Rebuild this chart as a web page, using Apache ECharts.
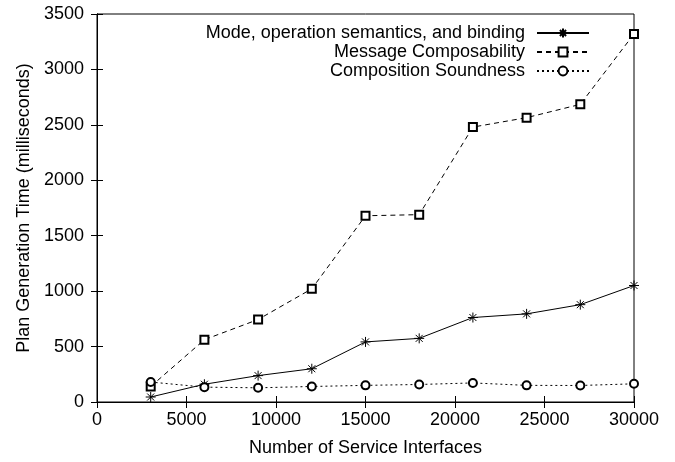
<!DOCTYPE html>
<html>
<head>
<meta charset="utf-8">
<script src="https://cdn.jsdelivr.net/npm/echarts@6/dist/echarts.min.js"></script>
<style>
html,body{margin:0;padding:0;background:#fff;}
#chart{width:675px;height:462px;}
</style>
</head>
<body>
<div id="chart"></div>
<script>
const interfaces = [3000, 6000, 9000, 12000, 15000, 18000, 21000, 24000, 27000, 30000];
const modeBinding = [45, 160, 238, 300, 542, 574, 762, 795, 878, 1051];
const messageComposability = [140, 562, 744, 1021, 1680, 1690, 2480, 2565, 2685, 3320];
const compositionSoundness = [180, 134, 128, 140, 150, 158, 172, 150, 149, 164];
const seriesNames = ['Mode, operation semantics, and binding', 'Message Composability', 'Composition Soundness'];

const FONT = 'Liberation Sans';
const FS = 18;
const starPath = 'path://M0 5 L10 5 M5 0 L5 10 M1.5 1.5 L8.5 8.5 M8.5 1.5 L1.5 8.5';

function pairs(ys){ return interfaces.map((x,i)=>[x, ys[i]]); }
const plain = v => String(v);

const chart = echarts.init(document.getElementById('chart'), null, {renderer:'canvas'});
const tickStyle = {show:true, inside:true, length:6, lineStyle:{color:'#000', width:1}};
chart.setOption({
  animation:false,
  backgroundColor:'#fff',
  textStyle:{fontFamily:FONT, color:'#000'},
  grid:{left:97, right:41, top:14, bottom:58, show:true, borderColor:'#000', borderWidth:1, containLabel:false},
  legend:{
    orient:'vertical', right:80, top:19, align:'right',
    itemWidth:52, itemHeight:11, itemGap:1,
    textStyle:{fontFamily:FONT, fontSize:FS, color:'#000', padding:[0,7,0,0]},
    data:seriesNames,
    selectedMode:false
  },
  xAxis:[{
    type:'value', min:0, max:30000, interval:5000,
    name:'Number of Service Interfaces', nameLocation:'middle', nameGap:37,
    nameTextStyle:{fontFamily:FONT, fontSize:FS, color:'#000'},
    axisLine:{show:true, lineStyle:{color:'#000'}},
    axisTick:tickStyle,
    axisLabel:{fontFamily:FONT, fontSize:FS, color:'#000', margin:9, formatter:plain},
    splitLine:{show:false}
  },{
    type:'value', position:'top', min:0, max:30000, interval:5000,
    axisLine:{show:true, lineStyle:{color:'#000'}},
    axisTick:tickStyle, axisLabel:{show:false}, splitLine:{show:false}
  }],
  yAxis:[{
    type:'value', min:0, max:3500, interval:500,
    name:'Plan Generation Time (milliseconds)', nameLocation:'middle', nameGap:64,
    nameTextStyle:{fontFamily:FONT, fontSize:FS, color:'#000'},
    axisLine:{show:true, lineStyle:{color:'#000'}},
    axisTick:tickStyle,
    axisLabel:{fontFamily:FONT, fontSize:FS, color:'#000', margin:13, formatter:plain},
    splitLine:{show:false}
  },{
    type:'value', position:'right', min:0, max:3500, interval:500,
    axisLine:{show:true, lineStyle:{color:'#000'}},
    axisTick:tickStyle, axisLabel:{show:false}, splitLine:{show:false}
  }],
  series:[
    {
      name:seriesNames[0], type:'line', data:pairs(modeBinding),
      symbol:starPath, symbolSize:10,
      lineStyle:{color:'#000', width:1, type:'solid'},
      itemStyle:{color:'#000', borderColor:'#000', borderWidth:1}
    },
    {
      name:seriesNames[1], type:'line', data:pairs(messageComposability),
      symbol:'emptyRect', symbolSize:8,
      lineStyle:{color:'#000', width:1, type:[5,4]},
      itemStyle:{color:'#000', borderColor:'#000', borderWidth:1}
    },
    {
      name:seriesNames[2], type:'line', data:pairs(compositionSoundness),
      symbol:'emptyCircle', symbolSize:8,
      lineStyle:{color:'#000', width:1, type:[2,3]},
      itemStyle:{color:'#000', borderColor:'#000', borderWidth:1}
    }
  ]
});
</script>
</body>
</html>
